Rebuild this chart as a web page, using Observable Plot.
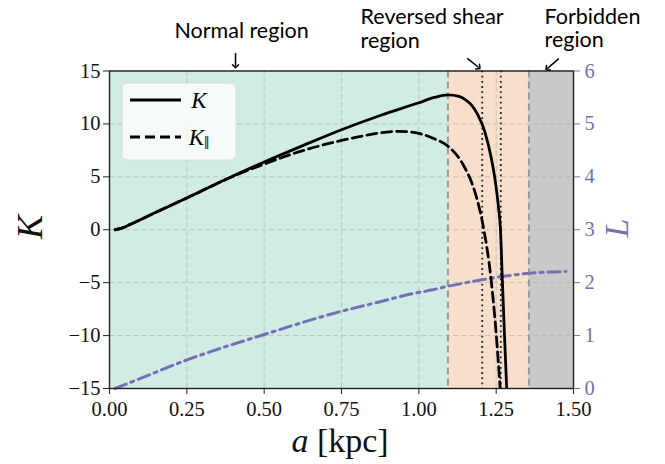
<!DOCTYPE html>
<html><head><meta charset="utf-8">
<script src="https://cdn.jsdelivr.net/npm/d3@7"></script>
<script src="https://cdn.jsdelivr.net/npm/@observablehq/plot@0.6"></script>
<style>
body{margin:0;background:#fff;}
#chart{position:relative;width:665px;height:464px;}
</style></head><body><div id="chart"></div>
<script>
// K (solid)
const aK = [0.018,0.04,0.07,0.1,0.15,0.25,0.375,0.5,0.625,0.75,0.875,1.0,1.05,1.094,1.13,1.15,1.17,1.19,1.213,1.234,1.25,1.258,1.264,1.270,1.277,1.284];
const K  = [0,0.15,0.55,0.95,1.65,3.0,4.75,6.4,7.95,9.45,10.8,12.0,12.5,12.74,12.6,12.3,11.8,10.9,9.3,6.8,4.0,2.0,0,-4.8,-10,-15];
// K_parallel (dashed)
const aKpar = [0.018,0.04,0.07,0.1,0.15,0.25,0.4,0.5,0.6,0.716,0.8,0.932,1.0,1.05,1.094,1.148,1.18,1.207,1.234,1.25,1.263];
const Kpar  = [0,0.15,0.55,0.95,1.65,3.0,5.05,6.2,7.25,8.2,8.75,9.3,9.1,8.6,7.9,5.9,3.7,0.5,-4.8,-9.8,-15];
// L (dash-dot, right axis)
const aL = [0.018,0.1,0.25,0.375,0.5,0.625,0.75,0.875,0.97,1.04,1.1,1.2,1.25,1.3,1.36,1.42,1.476];
const L  = [0,0.19,0.54,0.79,1.02,1.25,1.46,1.64,1.78,1.86,1.94,2.05,2.10,2.14,2.18,2.20,2.21];

const xTicks = [0,0.25,0.5,0.75,1.0,1.25,1.5];
const kTicks = [-15,-10,-5,0,5,10,15];
const lTicks = [0,1,2,3,4,5,6];

const regionStart = [0,1.094,1.356];
const regionEnd   = [1.094,1.356,1.5];
const regionColors = ["#d1ece4","#f7dfcc","#c9c9c9"];
const boundaries = [1.094,1.356];
const dottedLines = [1.205,1.265];

// annotations (data coordinates)
const annLabels = ["Normal region","Reversed shear\nregion","Forbidden\nregion"];
const annTextX = [0.427,0.8115,1.4064];
const annTextY = [18.1,17.22,17.25];
const arrowX1 = [0.4074,1.1565,1.4526];
const arrowY1 = [16.7,16.2,16.17];
const arrowX2 = [0.4074,1.1939,1.4151];
const arrowY2 = [15.45,15.33,15.22];

const purple = "#7570b3";
const Lmin = 0, Lmax = 6, Kmin = -15, Kmax = 15;
const LtoK = l => Kmin + (l - Lmin) * (Kmax - Kmin) / (Lmax - Lmin);

const kData = aK.map((a,i)=>({a, v:K[i]}));
const kpData = aKpar.map((a,i)=>({a, v:Kpar[i]}));
const lData = aL.map((a,i)=>({a, v:LtoK(L[i])}));
const regions = regionStart.map((s,i)=>({x1:s, x2:regionEnd[i], fill:regionColors[i]}));
const arrows = arrowX1.map((x,i)=>({x1:x, y1:arrowY1[i], x2:arrowX2[i], y2:arrowY2[i]}));
const anns = annLabels.map((t,i)=>({t, x:annTextX[i], y:annTextY[i]}));

const serif = "'Liberation Serif', 'DejaVu Serif', serif";
const sans = "Lato, 'DejaVu Sans', sans-serif";

const chart = Plot.plot({
  width: 665, height: 464,
  marginLeft: 109, marginRight: 92, marginTop: 70.5, marginBottom: 76,
  style: {fontFamily: serif, background: "white", overflow: "visible"},
  x: {domain: [0,1.5]},
  y: {domain: [Kmin,Kmax]},
  marks: [
    Plot.rect(regions, {x1:"x1", x2:"x2", fill:"fill"}),
    Plot.gridX(xTicks, {stroke:"#b5b5b5", strokeOpacity:0.75, strokeDasharray:"5,3", strokeWidth:1}),
    Plot.gridY(kTicks, {stroke:"#b5b5b5", strokeOpacity:0.75, strokeDasharray:"5,3", strokeWidth:1}),
    Plot.ruleX(boundaries, {stroke:"#999", strokeWidth:2, strokeDasharray:"7,4"}),
    Plot.ruleX(dottedLines, {stroke:"#222", strokeWidth:1.8, strokeDasharray:"1.8,3.4"}),
    Plot.line(lData, {x:"a", y:"v", stroke:purple, strokeWidth:3, strokeDasharray:"12,5,3,5", curve:"monotone-x"}),
    Plot.line(kpData, {x:"a", y:"v", stroke:"black", strokeWidth:2.8, strokeDasharray:"10,5", curve:"monotone-x", clip:true}),
    Plot.line(kData, {x:"a", y:"v", stroke:"black", strokeWidth:2.8, curve:"monotone-x", clip:true}),
    Plot.frame({stroke:"#222", strokeWidth:1.4}),
    Plot.axisX(xTicks, {tickFormat: d3.format(".2f"), fontSize: 20.5, tickSize: 6, tickPadding: 7, label: null, stroke:"#222", fill:"#111"}),
    Plot.axisY(kTicks, {anchor:"left", fontSize: 20.5, tickSize: 6, tickPadding: 3, label: null, stroke:"#222", fill:"#111"}),
    Plot.axisY(lTicks.map(LtoK), {anchor:"right", tickFormat: v => String((v - Kmin) * (Lmax - Lmin) / (Kmax - Kmin)), fontSize: 20.5, tickSize: 6, tickPadding: 5, label: null, stroke: purple, fill: purple}),
    Plot.text([anns[0]], {x:"x", y:"y", text:"t", textAnchor:"middle", lineAnchor:"bottom", fontSize:21.5, fontFamily:sans, fill:"black"}),
    Plot.text(anns.slice(1), {x:"x", y:"y", text:"t", textAnchor:"start", lineAnchor:"bottom", lineHeight:1.1, fontSize:21.5, fontFamily:sans, fill:"black"}),
    Plot.link(arrows, {x1:"x1", y1:"y1", x2:"x2", y2:"y2", stroke:"black", strokeWidth:1.5, markerEnd:"arrow"})
  ]
});

const svg = d3.select(chart);
// axis labels
const xl = svg.append("text").attr("x", 340).attr("y", 452).attr("text-anchor","middle")
  .style("font-family", serif).style("font-size","34px").attr("fill","#111");
xl.append("tspan").style("font-style","italic").text("a");
xl.append("tspan").text(" [kpc]");
svg.append("text").attr("transform","translate(42,227) rotate(-90)").attr("text-anchor","middle")
  .style("font-family", serif).style("font-style","italic").style("font-size","36px").attr("fill","#111").text("K");
svg.append("text").attr("transform","translate(628,228) rotate(-90)").attr("text-anchor","middle")
  .style("font-family", serif).style("font-style","italic").style("font-size","34px").attr("fill",purple).text("L");

// legend
const lg = svg.append("g");
lg.append("rect").attr("x",122).attr("y",83).attr("width",114).attr("height",77).attr("rx",5)
  .attr("fill","white").attr("fill-opacity",0.8).attr("stroke","#dcdcdc").attr("stroke-width",1);
lg.append("line").attr("x1",130).attr("x2",181).attr("y1",100).attr("y2",100).attr("stroke","black").attr("stroke-width",2.8);
lg.append("line").attr("x1",130).attr("x2",181).attr("y1",137).attr("y2",137).attr("stroke","black").attr("stroke-width",2.8).attr("stroke-dasharray","10,5");
lg.append("text").attr("x",199).attr("y",108).style("font-family",serif).style("font-style","italic").style("font-size","23px").text("K");
const kp = lg.append("text").attr("x",199).attr("y",145).style("font-family",serif).style("font-size","23px");
kp.append("tspan").style("font-style","italic").text("K");
kp.append("tspan").attr("dy",4).style("font-size","19px").text("‖");

document.getElementById("chart").appendChild(chart);
</script>
</body></html>
